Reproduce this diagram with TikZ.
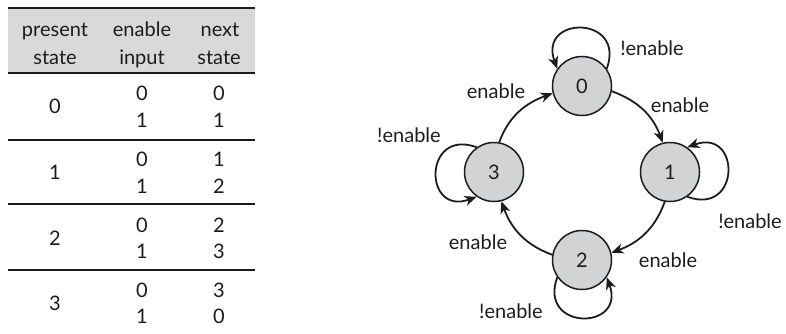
\documentclass[tikz,border=0pt]{standalone}
\usepackage{fontspec}
\setmainfont{Lato}
\usetikzlibrary{arrows.meta}
\definecolor{hdr}{RGB}{217,217,218}
\definecolor{stfill}{RGB}{210,211,213}
\definecolor{ink}{RGB}{30,27,28}
\begin{document}
\begin{tikzpicture}[x=1pt,y=1pt,
  every node/.style={text=ink, font=\fontsize{20}{23}\selectfont},
  cell/.style={anchor=base, inner sep=0pt},
  lbl/.style={anchor=base, inner sep=0pt},
  stnode/.style={circle, draw=ink, fill=stfill, line width=1.5pt, minimum size=59pt, inner sep=0pt},
  conn/.style={draw=ink, line width=1.8pt, -{Stealth[length=12pt,width=10pt,inset=3.5pt]}},
  thickrule/.style={draw=ink, line width=2pt},
  thinrule/.style={draw=ink, line width=1.3pt}]
\useasboundingbox (0,0) rectangle (786,333);
% ---------- table ----------
\fill[hdr] (8,324) rectangle (255,261);
\coordinate (r0a) at (8,325);   \coordinate (r0b) at (255,325);
\coordinate (r1a) at (8,260);   \coordinate (r1b) at (255,260);
\coordinate (r2a) at (8,193);   \coordinate (r2b) at (255,193);
\coordinate (r3a) at (8,129);   \coordinate (r3b) at (255,129);
\coordinate (r4a) at (8,63);    \coordinate (r4b) at (255,63);
\draw[thickrule] (r0a) -- (r0b);
\draw[thickrule] (r1a) -- (r1b);
\draw[thinrule] (r2a) -- (r2b);
\draw[thinrule] (r3a) -- (r3b);
\draw[thinrule] (r4a) -- (r4b);
\node[cell] (h1) at (55,297) {present};
\node[cell] (h2) at (142,297) {enable};
\node[cell] (h3) at (220,297) {next};
\node[cell] (h4) at (55,269) {state};
\node[cell] (h5) at (142,269) {input};
\node[cell] (h6) at (219,269) {state};
% group 0
\node[cell] (p0) at (55,220) {0};
\node[cell] (a0) at (142,233) {0}; \node[cell] (b0) at (219,233) {0};
\node[cell] (c0) at (142,206) {1}; \node[cell] (d0) at (219,206) {1};
% group 1
\node[cell] (p1) at (55,154) {1};
\node[cell] (a1) at (142,167) {0}; \node[cell] (b1) at (219,167) {1};
\node[cell] (c1) at (142,140) {1}; \node[cell] (d1) at (219,140) {2};
% group 2
\node[cell] (p2) at (55,88) {2};
\node[cell] (a2) at (142,101) {0}; \node[cell] (b2) at (219,101) {2};
\node[cell] (c2) at (142,75) {1};  \node[cell] (d2) at (219,75) {3};
% group 3
\node[cell] (p3) at (55,23) {3};
\node[cell] (a3) at (142,36) {0}; \node[cell] (b3) at (219,36) {3};
\node[cell] (c3) at (142,10) {1}; \node[cell] (d3) at (219,10) {0};
% ---------- state diagram ----------
\node[stnode] (n0) at (582,247) {0};
\node[stnode] (n1) at (670,161) {1};
\node[stnode] (n2) at (582,73) {2};
\node[stnode] (n3) at (494,161) {3};
% transitions
\draw[conn] (n0.-10) to[out=-20,in=110] (n1.104);
\draw[conn] (n1.-100) to[out=-110,in=20] (n2.14);
\draw[conn] (n2.170) to[out=160,in=-70] (n3.-76);
\draw[conn] (n3.80) to[out=70,in=-160] (n0.194);
% self loops
\draw[conn] (n0.35) .. controls +(70:57) and +(110:57) .. (n0.145);
\draw[conn] (n1.-55) .. controls +(-20:57) and +(20:57) .. (n1.55);
\draw[conn] (n2.-145) .. controls +(-110:57) and +(-70:57) .. (n2.-35);
\draw[conn] (n3.125) .. controls +(160:57) and +(200:57) .. (n3.235);
% labels
\node[lbl] (l0) at (652,278) {!enable};
\node[lbl] (e01) at (680,221) {enable};
\node[lbl] (l1) at (750,105) {!enable};
\node[lbl] (e12) at (668,66) {enable};
\node[lbl] (l2) at (511,15) {!enable};
\node[lbl] (e23) at (478,84) {enable};
\node[lbl] (l3) at (409,191) {!enable};
\node[lbl] (e30) at (496,235) {enable};
\end{tikzpicture}
\end{document}
